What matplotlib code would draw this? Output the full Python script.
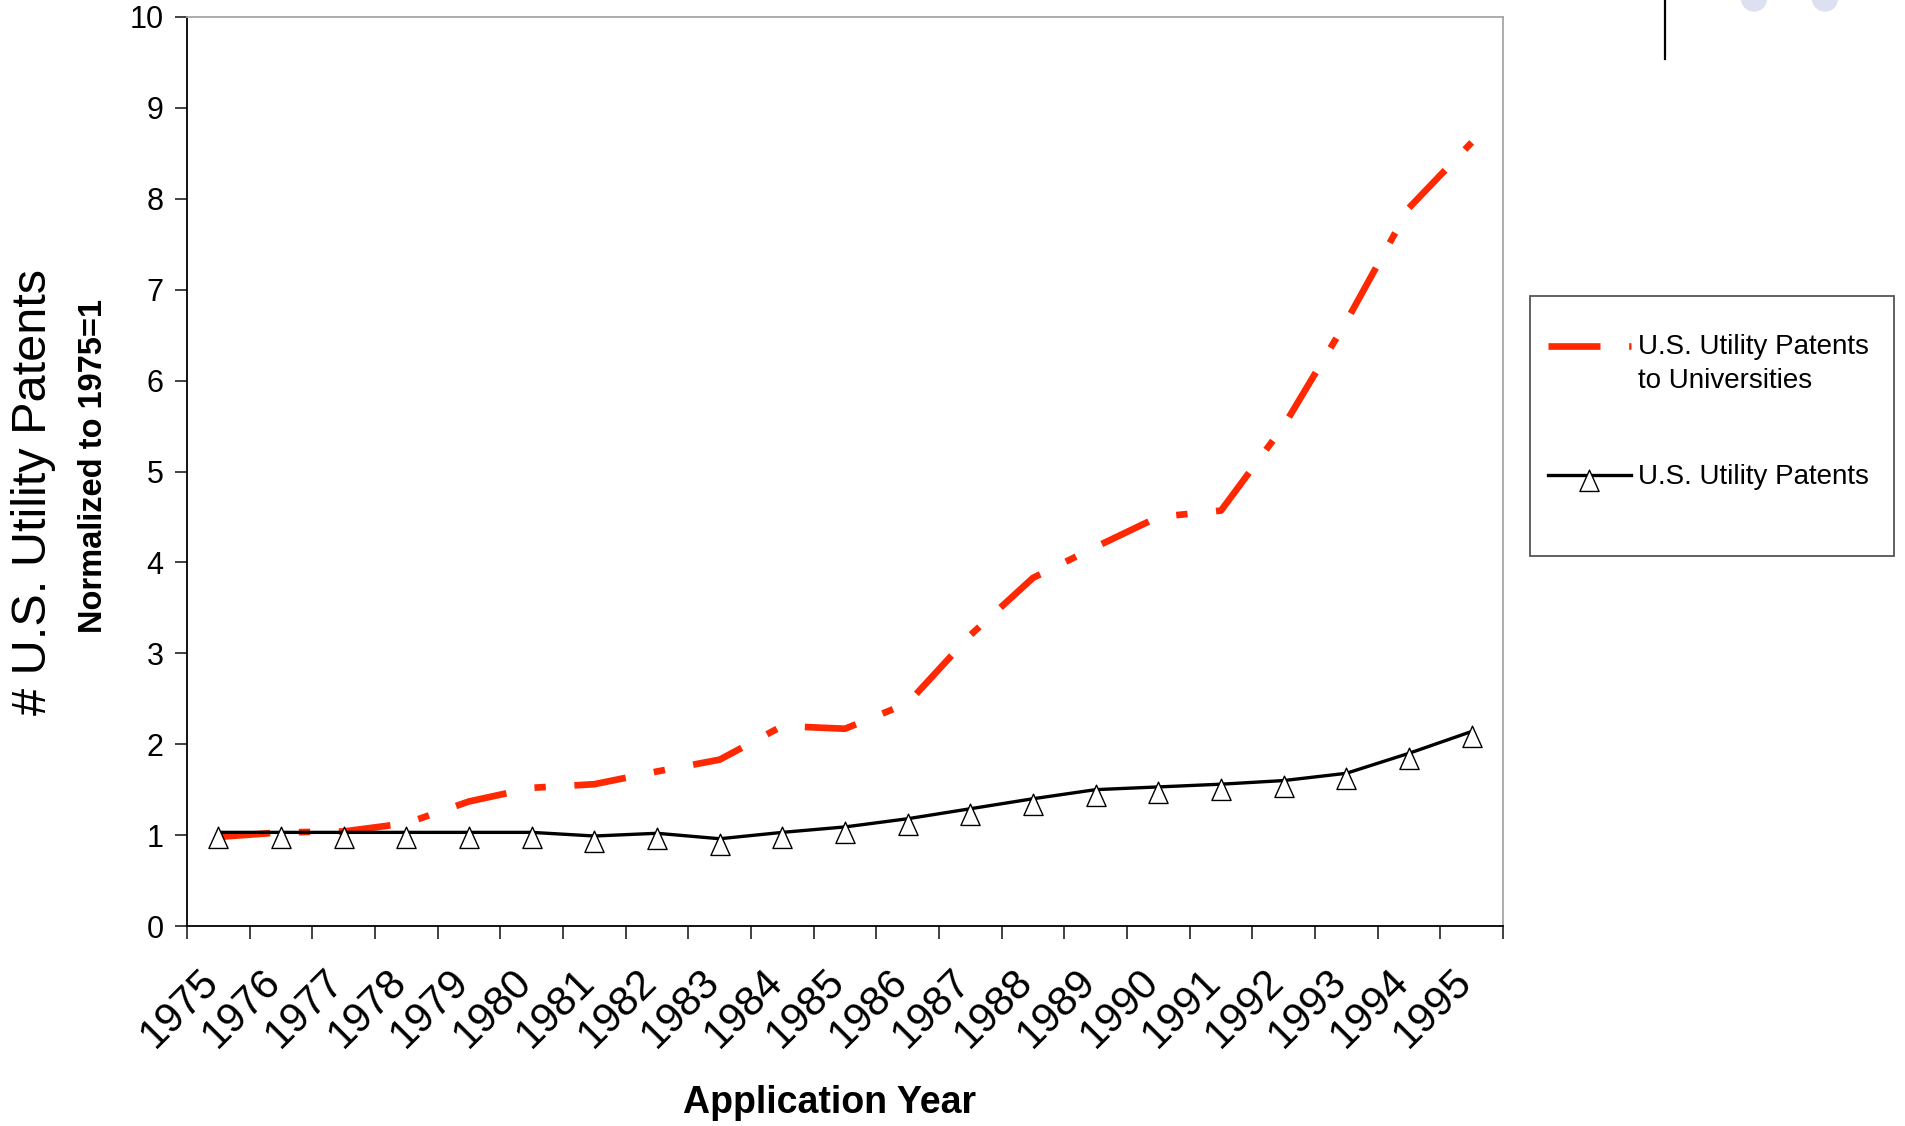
import matplotlib
matplotlib.use("Agg")
import numpy as np
import matplotlib.pyplot as plt
from matplotlib.path import Path
from matplotlib.patches import Ellipse, Rectangle
from matplotlib.lines import Line2D
from matplotlib.transforms import ScaledTranslation

# Data (normalized to 1975 = 1)
years = list(range(1975, 1996))
universities = [0.98, 1.03, 1.04, 1.13, 1.37, 1.52, 1.56, 1.70, 1.83, 2.20, 2.17,
                2.45, 3.20, 3.83, 4.17, 4.50, 4.57, 5.50, 6.65, 7.90, 8.62]
all_patents = [1.03, 1.03, 1.03, 1.03, 1.03, 1.03, 0.99, 1.02, 0.96, 1.03, 1.09,
               1.18, 1.29, 1.40, 1.50, 1.53, 1.56, 1.60, 1.68, 1.90, 2.14]
y_ticks = list(range(0, 11))

plt.rcParams["font.family"] = ["Liberation Sans", "DejaVu Sans"]

W, H = 1905, 1126
fig = plt.figure(figsize=(W / 100, H / 100), dpi=100)
ax = fig.add_axes([187 / W, 1 - 926 / H, (1503 - 187) / W, (926 - 17) / H])

x = list(range(len(years)))

# triangle sitting mostly below the point, as drawn in the original
tri = Path([(0, 0.25), (-0.45, -0.75), (0.45, -0.75), (0, 0.25)],
           [Path.MOVETO, Path.LINETO, Path.LINETO, Path.CLOSEPOLY])

red = "#FF2800"
ax.plot(x, universities, color=red, lw=4.8, linestyle=(0, (7.8, 4.3, 1.7, 4.3)),
        dash_capstyle="butt", solid_joinstyle="miter",
        label="U.S. Utility Patents\nto Universities", zorder=3)
ax.plot(x, all_patents, color="black", lw=2.4, marker=tri, markersize=23,
        markerfacecolor="white", markeredgecolor="black", markeredgewidth=1.0,
        label="U.S. Utility Patents", zorder=4)

ax.set_xlim(-0.5, len(years) - 0.5)
ax.set_ylim(0, 10)
ax.set_yticks(y_ticks)
ax.set_yticklabels([str(v) for v in y_ticks], fontsize=22)

# tick marks between categories, labels at category centres
ax.set_xticks([i - 0.5 for i in range(len(years) + 1)])
ax.set_xticklabels([])
ax.set_xticks(x, minor=True)
ax.set_xticklabels([str(y) for y in years], minor=True, fontsize=30,
                   rotation=45, ha="right", va="center", rotation_mode="anchor")
ax.tick_params(axis="x", which="major", length=9, width=1.3, direction="out", color="#333333")
ax.tick_params(axis="x", which="minor", length=0, pad=36)
ax.tick_params(axis="y", length=9, width=1.3, direction="out", pad=8, color="#333333")
offset = ScaledTranslation(-6 / 100, 0, fig.dpi_scale_trans)
for lab in ax.get_xticklabels(minor=True):
    lab.set_transform(lab.get_transform() + offset)

for s in ["left", "bottom"]:
    ax.spines[s].set_color("black")
    ax.spines[s].set_linewidth(1.3)
for s in ["top", "right"]:
    ax.spines[s].set_color("#A6A6A6")
    ax.spines[s].set_linewidth(1.3)

# axis titles
fig.text(34 / W, 1 - 492 / H, "# U.S. Utility Patents", rotation=90, fontsize=35,
         ha="center", va="center")
fig.text(94 / W, 1 - 466 / H, "Normalized to 1975=1", rotation=90, fontsize=23.5,
         fontweight="bold", ha="center", va="center")
fig.text(830 / W, 1 - 1113 / H, "Application Year", fontsize=27, fontweight="bold",
         ha="center", va="baseline")

# legend (frame drawn separately so the padding can be uneven as in the original)
leg = fig.legend(loc="upper left", bbox_to_anchor=(1548 / W, 1 - 334 / H),
                 fontsize=20, frameon=False,
                 handlelength=2.98, handletextpad=0.25, borderpad=0,
                 labelspacing=2.53, borderaxespad=0)
for t in leg.get_texts():
    t.set_linespacing(1.4)
# red key sits level with the first line of its two-line label
red_key = leg.legend_handles[0]
red_key.set_ydata(np.asarray(red_key.get_ydata()) + 13.5)
fig.add_artist(Rectangle((1530 / W, 1 - 556 / H), (1894 - 1530) / W, (556 - 296) / H,
                         fill=False, edgecolor="#555555", lw=1.3,
                         transform=fig.transFigure))

# slide decoration in the top-right corner
fig.add_artist(Line2D([1665 / W, 1665 / W], [1, 1 - 59 / H], color="black", lw=1.6,
                      transform=fig.transFigure))
for cx in (1754, 1825):
    fig.add_artist(Ellipse((cx / W, 1 + 1.5 / H), 25 / W, 25 / H, color="#DDE0F0",
                           transform=fig.transFigure))

plt.savefig("out.png", dpi=100)
